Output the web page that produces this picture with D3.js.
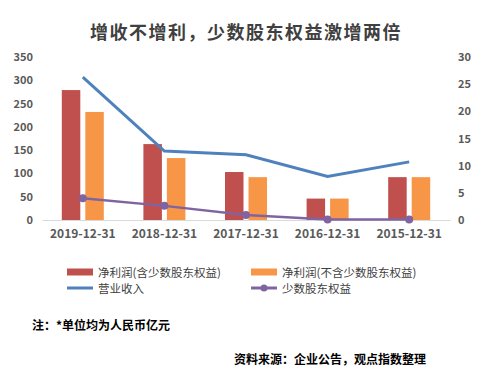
<!DOCTYPE html>
<html><head><meta charset="utf-8">
<script src="https://cdn.jsdelivr.net/npm/d3@7/dist/d3.min.js"></script>
<style>body{margin:0;background:#fff;}svg{display:block;}</style>
</head><body>
<svg id="c" width="482" height="374"></svg>
<script>
const categories = ["2019-12-31","2018-12-31","2017-12-31","2016-12-31","2015-12-31"];
const netProfitIncl = [279, 163, 103, 46, 92];
const netProfitExcl = [232, 133, 92, 46, 92];
const revenue = [26.3, 12.7, 12.0, 8.0, 10.7];
const minority = [4.0, 2.6, 0.9, 0.1, 0.1];
const leftTicks = [0,50,100,150,200,250,300,350];
const rightTicks = [0,5,10,15,20,25,30];
const seriesNames = ["净利润(含少数股东权益)","净利润(不含少数股东权益)","营业收入","少数股东权益"];
const colors = ["#C0504D","#F79646","#4F81BD","#8064A2"];

const svg = d3.select("#c");
const font = "'Noto Sans CJK SC','Noto Sans',sans-serif";
const x0 = 42, x1 = 450, yTop = 57, yBot = 220;
const x = d3.scaleBand().domain(categories).range([x0,x1]).padding(0);
const yL = d3.scaleLinear().domain([0,350]).range([yBot,yTop]);
const yR = d3.scaleLinear().domain([0,30]).range([yBot,yTop]);

svg.append("text").attr("x",246).attr("y",39).attr("text-anchor","middle")
  .attr("font-family",font).attr("font-weight","bold").attr("font-size",18)
  .attr("letter-spacing",1.5).attr("fill","#404040").text("增收不增利，少数股东权益激增两倍");

const gL = svg.append("g").attr("transform",`translate(${x0},0)`)
  .call(d3.axisLeft(yL).tickValues(leftTicks).tickSize(0).tickPadding(9));
const gR = svg.append("g").attr("transform",`translate(${x1},0)`)
  .call(d3.axisRight(yR).tickValues(rightTicks).tickSize(0).tickPadding(8));
[gL,gR].forEach(g=>{g.select(".domain").remove();
  g.selectAll("text").attr("font-family",font).attr("font-weight","bold").attr("font-size",11).attr("fill","#595959");});

const bw = 18.5, gap = 5;
const cx = d => x(d) + x.bandwidth()/2;
svg.append("g").selectAll("rect").data(categories).join("rect")
  .attr("x",d=>cx(d)-gap/2-bw).attr("width",bw)
  .attr("y",(d,i)=>yL(netProfitIncl[i])).attr("height",(d,i)=>yBot-yL(netProfitIncl[i]))
  .attr("fill",colors[0]);
svg.append("g").selectAll("rect").data(categories).join("rect")
  .attr("x",d=>cx(d)+gap/2).attr("width",bw)
  .attr("y",(d,i)=>yL(netProfitExcl[i])).attr("height",(d,i)=>yBot-yL(netProfitExcl[i]))
  .attr("fill",colors[1]);

const gX = svg.append("g").attr("transform",`translate(0,${yBot})`)
  .call(d3.axisBottom(x).tickSize(0).tickPadding(9));
gX.select(".domain").attr("stroke","#d9d9d9").attr("stroke-width",1);
gX.selectAll("text").attr("font-family",font).attr("font-weight","bold").attr("font-size",12).attr("fill","#595959");

svg.append("path").datum(revenue).attr("fill","none").attr("stroke",colors[2]).attr("stroke-width",3)
  .attr("d",d3.line().x((d,i)=>cx(categories[i])).y(d=>yR(d)));
svg.append("path").datum(minority).attr("fill","none").attr("stroke",colors[3]).attr("stroke-width",2.5)
  .attr("d",d3.line().x((d,i)=>cx(categories[i])).y(d=>yR(d)));
svg.append("g").selectAll("circle").data(minority).join("circle")
  .attr("cx",(d,i)=>cx(categories[i])).attr("cy",d=>yR(d)).attr("r",4).attr("fill",colors[3]);

const leg = [{x:67,y:272,t:"rect"},{x:251,y:272,t:"rect"},{x:67,y:288,t:"line"},{x:251,y:288,t:"marker"}];
leg.forEach((l,i)=>{
  const g = svg.append("g");
  if(l.t==="rect") g.append("rect").attr("x",l.x).attr("y",l.y-3.5).attr("width",26).attr("height",7).attr("fill",colors[i]);
  else {
    g.append("line").attr("x1",l.x).attr("x2",l.x+26).attr("y1",l.y).attr("y2",l.y).attr("stroke",colors[i]).attr("stroke-width",3);
    if(l.t==="marker") g.append("circle").attr("cx",l.x+13).attr("cy",l.y).attr("r",3.5).attr("fill",colors[i]);
  }
  g.append("text").attr("x",l.x+31).attr("y",l.y+4.5).attr("font-family",font).attr("font-size",11.5)
    .attr("fill","#404040").text(seriesNames[i]);
});

svg.append("text").attr("x",32).attr("y",330).attr("font-family",font).attr("font-weight","bold")
  .attr("font-size",12).attr("fill","#000").text("注：*单位均为人民币亿元");
svg.append("text").attr("x",234).attr("y",364).attr("font-family",font).attr("font-weight","bold")
  .attr("font-size",12).attr("fill","#000").text("资料来源：企业公告，观点指数整理");
</script>
</body></html>
